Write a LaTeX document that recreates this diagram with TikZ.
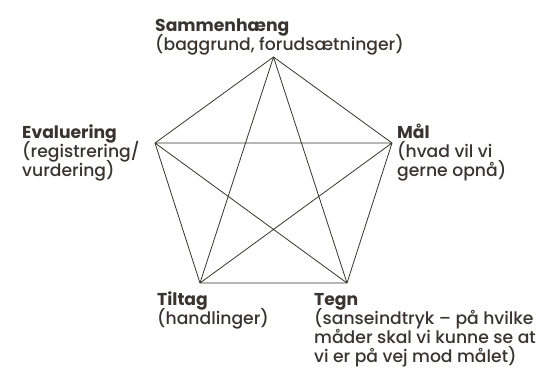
\documentclass[tikz,border=0pt]{standalone}
\usepackage{fontspec}
\setmainfont{Poppins}[UprightFont=* Medium, BoldFont=* Bold]
\definecolor{Ink}{HTML}{3A3431}
\usetikzlibrary{positioning}
\newcommand\lblfont{\fontsize{17.2}{19}\selectfont\lineskiplimit=-20pt\relax}
\tikzset{
  lbl/.style={anchor=base west, align=left, inner sep=0pt,
    font=\lblfont, text=Ink},
  edge/.style={draw=Ink, line width=0.8pt, line join=round},
}
\begin{document}
\begin{tikzpicture}[x=1pt, y=-1pt]
\useasboundingbox (0,0) rectangle (554,368);

% pentagon corners, clockwise from the top
\coordinate (top) at (273.5,57);
\coordinate (rgt) at (392,143);
\coordinate (brt) at (347,283);
\coordinate (blt) at (200,283);
\coordinate (lft) at (155,143);

% outline and diagonals
\draw[edge] (top) -- (rgt) -- (brt) -- (blt) -- (lft) -- cycle;
\draw[edge] (top) -- (brt) (top) -- (blt) (rgt) -- (blt) (rgt) -- (lft) (lft) -- (brt);

% labels (base = baseline of the last line)
\node[lbl] at (155,50) (samm) {\textbf{Sammenhæng}\\(baggrund, forudsætninger)};
\node[lbl] at (22,176) (eval) {\textbf{Evaluering}\\(registrering/\\vurdering)};
\node[lbl] at (397,176) (maal) {\textbf{Mål}\\(hvad vil vi\\gerne opnå)};
\node[lbl] at (157,324) (tilt) {\textbf{Tiltag}\\(handlinger)};
\node[lbl] at (314,362) (tegn) {\textbf{Tegn}\\(sanseindtryk – på hvilke\\måder skal vi kunne se at\\vi er på vej mod målet)};

\end{tikzpicture}
\end{document}
